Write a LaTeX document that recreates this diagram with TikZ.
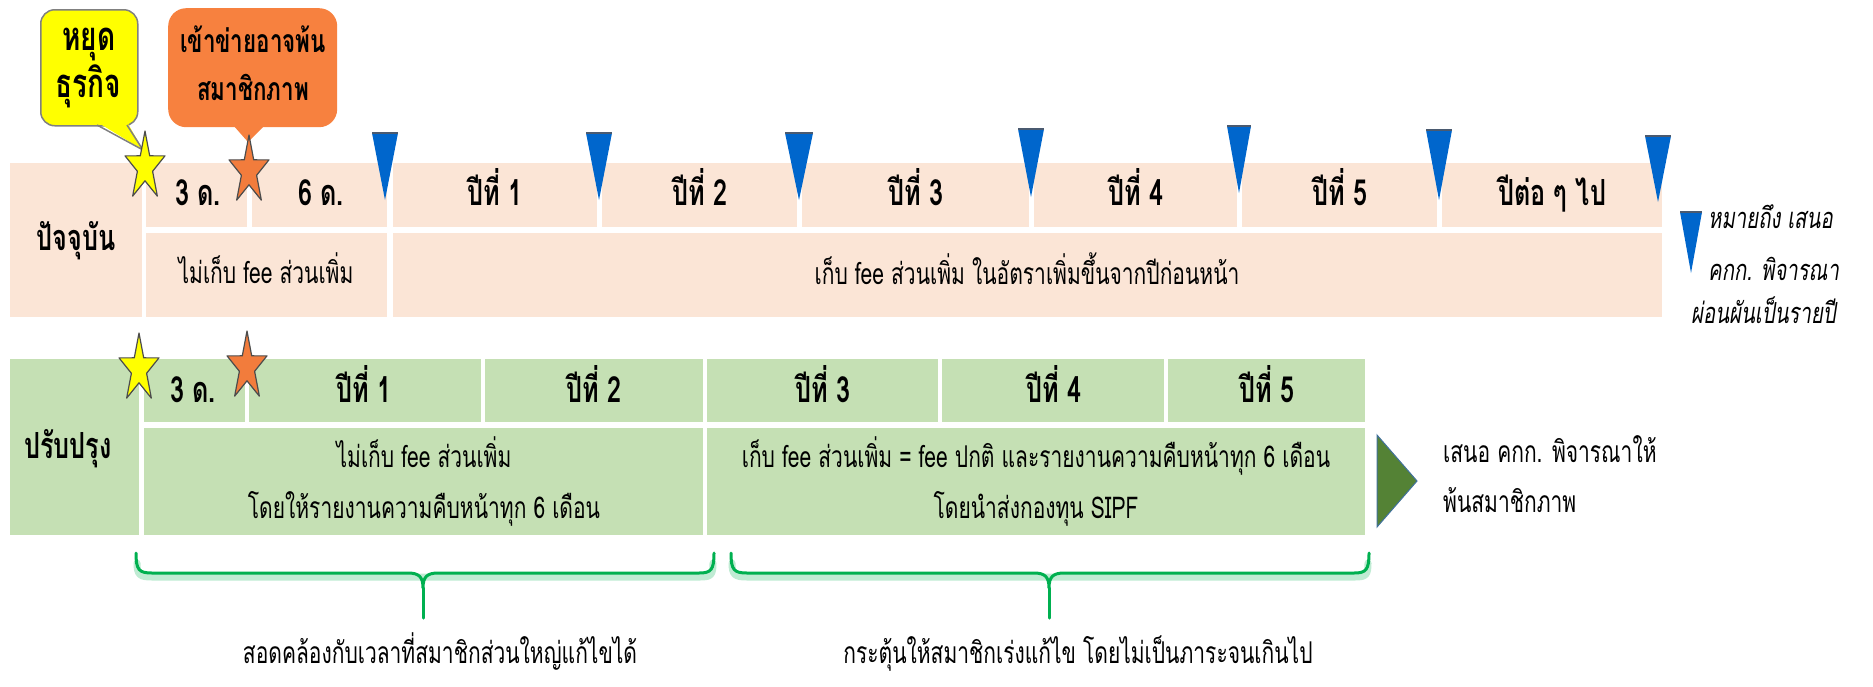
\documentclass[tikz,border=0pt]{standalone}
\usepackage{fontspec}
\newfontfamily\thaif[Script=Thai,FakeStretch=0.7]{Loma}
\usetikzlibrary{calc}
\definecolor{pinkc}{HTML}{FBE5D6}
\definecolor{greenc}{HTML}{C5E0B4}
\definecolor{bluet}{HTML}{0066CC}
\definecolor{triedge}{HTML}{4A5A70}
\definecolor{yelc}{HTML}{FFFF00}
\definecolor{orc}{HTML}{F7813F}
\definecolor{orstar}{HTML}{F27C3C}
\definecolor{darkg}{HTML}{548235}
\definecolor{arrowedge}{HTML}{41719C}
\definecolor{bracec}{HTML}{00B050}
\newcommand\fivestar[3]{\filldraw[#1,shift={(#2,#3)}]
  (90:21pt and 36pt) -- (126:8pt and 13.8pt) -- (162:21pt and 36pt) -- (198:8pt and 13.8pt) --
  (234:21pt and 36pt) -- (270:8pt and 13.8pt) -- (306:21pt and 36pt) -- (342:8pt and 13.8pt) --
  (18:21pt and 36pt) -- (54:8pt and 13.8pt) -- cycle;}
\newcommand\bluetri[4]{% tip x, top y, tip y, half width
  \fill[bluet] (#1-#4,#2) -- (#1+#4,#2) -- (#1,#3) -- cycle;
  \draw[triedge,line width=2pt] (#1-#4,#2) -- (#1+#4,#2);}
\begin{document}
\begin{tikzpicture}[x=1pt,y=-1pt,
  cellP/.style={fill=pinkc,draw=none,inner sep=0,anchor=north west},
  cellG/.style={fill=greenc,draw=none,inner sep=0,anchor=north west},
  hd/.style={font=\thaif\bfseries\fontsize{36}{40}\selectfont,anchor=base,inner sep=0},
  bd/.style={font=\thaif\fontsize{30}{40}\selectfont,anchor=base,inner sep=0},
  captxt/.style={font=\thaif\fontsize{30}{40}\selectfont,anchor=base,inner sep=0},
  lgd/.style={font=\thaif\itshape\fontsize{29}{30}\selectfont,anchor=base west,inner sep=0},
  clY/.style={font=\thaif\bfseries\fontsize{40}{40}\selectfont,anchor=base,inner sep=0},
  clO/.style={font=\thaif\bfseries\fontsize{32}{40}\selectfont,anchor=base,inner sep=0},
  starY/.style={fill=yelc,draw=black!70,line width=1.2pt,line join=round},
  starO/.style={fill=orstar,draw=black!70,line width=1.2pt,line join=round},
  brace/.style={draw=bracec,line width=3pt,line cap=round,line join=round},
  halo/.style={draw=bracec!25,line width=7pt,line cap=round,line join=round}
]
\useasboundingbox (0,0) rectangle (1873,686);
\newcommand\mkcell[7]{\node[#1,minimum width={(#5-#3)*1pt},minimum height={(#6-#4)*1pt}] (#2) at (#3,#4) {};}
% ---------- current (pink) band ----------
\mkcell{cellP}{pL}{10}{163}{142}{317}{}
\mkcell{cellP}{p3d}{146}{163}{247}{227}{}
\mkcell{cellP}{p6d}{252}{163}{387}{227}{}
\mkcell{cellP}{py1}{393}{163}{597}{227}{}
\mkcell{cellP}{py2}{602}{163}{797}{227}{}
\mkcell{cellP}{py3}{802}{163}{1029}{227}{}
\mkcell{cellP}{py4}{1034}{163}{1237}{227}{}
\mkcell{cellP}{py5}{1242}{163}{1437}{227}{}
\mkcell{cellP}{pyn}{1442}{163}{1662}{227}{}
\mkcell{cellP}{pfree}{146}{233}{387}{317}{}
\mkcell{cellP}{pfee}{393}{233}{1662}{317}{}
\node[hd] (tL) at (76,250) {ปัจจุบัน};
\node[hd] (t3d) at (198,205) {3 ด.};
\node[hd] (t6d) at (321,205) {6 ด.};
\node[hd] (ty1) at (495,205) {ปีที่ 1};
\node[hd] (ty2) at (700,205) {ปีที่ 2};
\node[hd] (ty3) at (916,205) {ปีที่ 3};
\node[hd] (ty4) at (1136,205) {ปีที่ 4};
\node[hd] (ty5) at (1340,205) {ปีที่ 5};
\node[hd] (tyn) at (1552,205) {ปีต่อ ๆ ไป};
\node[bd] (tfree) at (266,283) {ไม่เก็บ fee ส่วนเพิ่ม};
\node[bd] (tfee) at (1027,284) {เก็บ fee ส่วนเพิ่ม ในอัตราเพิ่มขึ้นจากปีก่อนหน้า};
% blue triangles
\bluetri{385}{133}{200}{13}
\bluetri{599}{133}{200}{13}
\bluetri{799}{133}{200}{14}
\bluetri{1031}{129}{197}{13}
\bluetri{1239}{126}{193}{12}
\bluetri{1439}{130}{200}{13}
\bluetri{1658}{136}{202}{13}
% legend
\bluetri{1691}{212}{273}{11}
\node[lgd] (lg1) at (1708,228) {หมายถึง เสนอ};
\node[lgd] (lg2) at (1708,280) {คกก. พิจารณา};
\node[lgd] (lg3) at (1691,323) {ผ่อนผันเป็นรายปี};
% callouts
\node[fill=yelc,draw=black!50,line width=1.5pt,rounded corners=14pt,inner sep=0,anchor=north west,
      minimum width=97pt,minimum height=116pt] (cy) at (40,9) {};
\fill[yelc] (97,122) -- (127,122) -- (143,150) -- cycle;
\draw[black!50,line width=1.5pt,line join=round] (97,125) -- (143,150) -- (127,125);
\node[clY] (cy1) at (89,50) {หยุด};
\node[clY] (cy2) at (88,97) {ธุรกิจ};
\node[fill=orc,draw=none,rounded corners=18pt,inner sep=0,anchor=north west,
      minimum width=169pt,minimum height=119pt] (co) at (168,8) {};
\fill[orc] (233,125) -- (265,125) -- (248,142) -- cycle;
\node[clO] (co1) at (253,52) {เข้าข่ายอาจพ้น};
\node[clO] (co2) at (253,100) {สมาชิกภาพ};
% stars (current)
\fivestar{starY}{145}{167}
\fivestar{starO}{249}{171}
% ---------- improved (green) band ----------
\mkcell{cellG}{gL}{10}{359}{139}{535}{}
\mkcell{cellG}{g3d}{144}{359}{245}{422}{}
\mkcell{cellG}{gy1}{249}{359}{481}{422}{}
\mkcell{cellG}{gy2}{485}{359}{703}{422}{}
\mkcell{cellG}{gy3}{707}{359}{938}{422}{}
\mkcell{cellG}{gy4}{942}{359}{1164}{422}{}
\mkcell{cellG}{gy5}{1168}{359}{1365}{422}{}
\mkcell{cellG}{gfree}{144}{428}{703}{535}{}
\mkcell{cellG}{gfee}{707}{428}{1365}{535}{}
\node[hd] (uL) at (68,458) {ปรับปรุง};
\node[hd] (u3d) at (193,402) {3 ด.};
\node[hd] (uy1) at (364,402) {ปีที่ 1};
\node[hd] (uy2) at (594,402) {ปีที่ 2};
\node[hd] (uy3) at (823,402) {ปีที่ 3};
\node[hd] (uy4) at (1054,402) {ปีที่ 4};
\node[hd] (uy5) at (1267,402) {ปีที่ 5};
\node[bd] (ufree1) at (424,467) {ไม่เก็บ fee ส่วนเพิ่ม};
\node[bd] (ufree2) at (424,518) {โดยให้รายงานความคืบหน้าทุก 6 เดือน};
\node[bd] (ufee1) at (1036,467) {เก็บ fee ส่วนเพิ่ม =  fee ปกติ และรายงานความคืบหน้าทุก 6 เดือน};
\node[bd] (ufee2) at (1036,518) {โดยนำส่งกองทุน SIPF};
\fivestar{starY}{139}{369}
\fivestar{starO}{247}{367}
% green arrow and its note
\filldraw[fill=darkg,draw=arrowedge,line width=1pt] (1377,435) -- (1417,481) -- (1377,527) -- cycle;
\node[captxt,anchor=base west] (an1) at (1443,462) {เสนอ คกก. พิจารณาให้};
\node[captxt,anchor=base west] (an2) at (1443,512) {พ้นสมาชิกภาพ};
% braces
\draw[halo,shift={(0,3)}] (137,560) .. controls (137,572) and (140,574) .. (152,574) -- (700,574)
   .. controls (711,574) and (713,572) .. (713,560);
\draw[halo,shift={(0,3)}] (732,560) .. controls (732,572) and (735,574) .. (747,574) -- (1355,574)
   .. controls (1366,574) and (1368,572) .. (1368,560);
\draw[brace] (136,553) .. controls (136,570) and (139,573) .. (152,573) -- (408,573)
   .. controls (419,573) and (423,577) .. (423,588) .. controls (423,577) and (427,573) .. (438,573)
   -- (699,573) .. controls (711,573) and (714,570) .. (714,553);
\draw[brace] (423,588) -- (423,618);
\draw[brace] (731,553) .. controls (731,570) and (734,573) .. (747,573) -- (1034,573)
   .. controls (1045,573) and (1049,577) .. (1049,588) .. controls (1049,577) and (1053,573) .. (1064,573)
   -- (1354,573) .. controls (1366,573) and (1369,570) .. (1369,553);
\draw[brace] (1049,588) -- (1049,618);
\node[captxt] (c1) at (440,663) {สอดคล้องกับเวลาที่สมาชิกส่วนใหญ่แก้ไขได้};
\node[captxt] (c2) at (1078,663) {กระตุ้นให้สมาชิกเร่งแก้ไข โดยไม่เป็นภาระจนเกินไป};
\end{tikzpicture}
\end{document}
